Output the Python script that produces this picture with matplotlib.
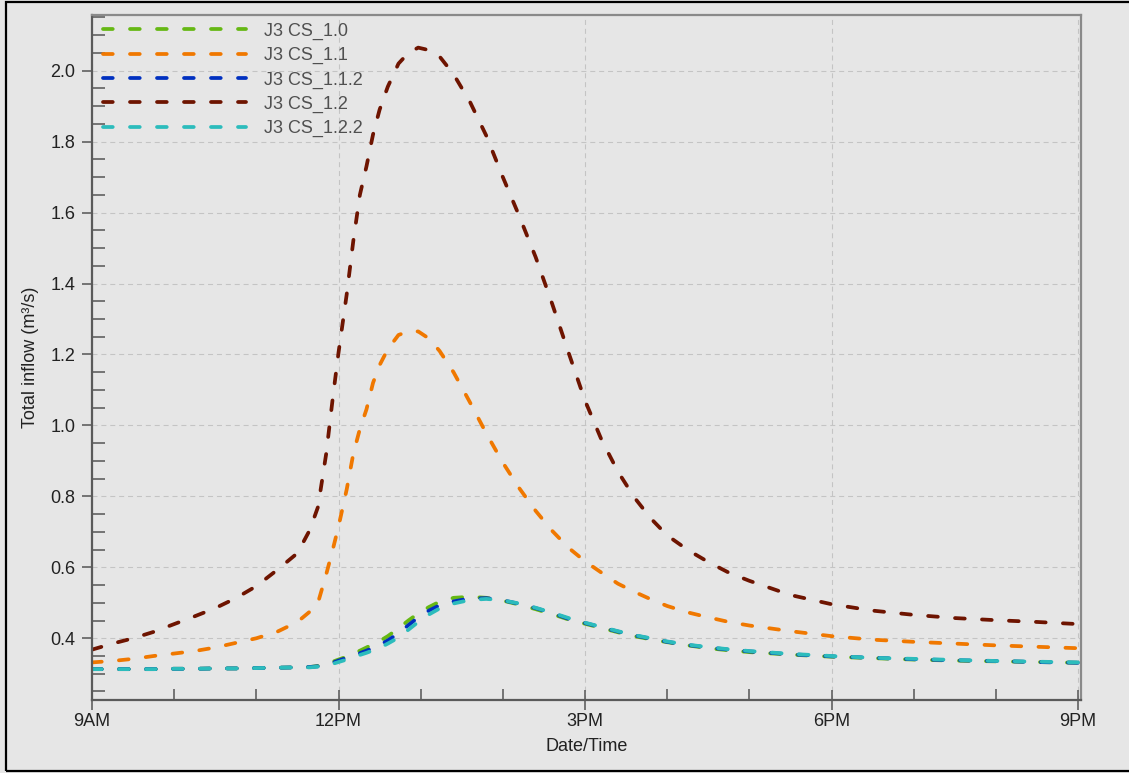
import matplotlib
matplotlib.use("Agg")
import matplotlib.pyplot as plt
from matplotlib.ticker import MultipleLocator, FixedLocator
from matplotlib.patches import Rectangle

plt.rcParams['font.family'] = ['Liberation Sans', 'DejaVu Sans']

# time of day in hours (9 = 9AM, 21 = 9PM)
hours = [9.0, 9.25, 9.5, 9.75, 10.0, 10.25, 10.5, 10.75, 11.0, 11.25, 11.5, 11.65,
         11.75, 11.85, 11.93, 12.0, 12.1, 12.18, 12.26, 12.34, 12.42, 12.5, 12.6,
         12.73, 12.85, 12.97, 13.1, 13.23, 13.4, 13.6, 13.8, 14.0, 14.2, 14.4, 14.6,
         14.8, 15.0, 15.2, 15.4, 15.6, 15.8, 16.0, 16.25, 16.5, 16.75, 17.0, 17.5,
         18.0, 18.5, 19.0, 19.5, 20.0, 20.5, 21.0]

cs_1_0 = [0.313, 0.313, 0.313, 0.313, 0.314, 0.314, 0.315, 0.315, 0.316, 0.317, 0.318, 0.319,
          0.322, 0.328, 0.334, 0.340, 0.348, 0.357, 0.365, 0.374, 0.383, 0.392, 0.406,
          0.428, 0.450, 0.470, 0.488, 0.503, 0.514, 0.517, 0.514, 0.506, 0.495, 0.482, 0.468,
          0.453, 0.441, 0.429, 0.417, 0.406, 0.397, 0.389, 0.380, 0.372, 0.366, 0.361, 0.354,
          0.348, 0.344, 0.340, 0.337, 0.335, 0.333, 0.331]

cs_1_1 = [0.332, 0.336, 0.342, 0.350, 0.357, 0.364, 0.374, 0.387, 0.400, 0.418, 0.446, 0.475,
          0.500, 0.580, 0.650, 0.715, 0.820, 0.920, 0.990, 1.045, 1.120, 1.170, 1.215,
          1.255, 1.265, 1.265, 1.245, 1.210, 1.150, 1.065, 0.977, 0.895, 0.823, 0.759, 0.703,
          0.655, 0.617, 0.585, 0.554, 0.531, 0.510, 0.491, 0.473, 0.459, 0.446, 0.436, 0.420,
          0.406, 0.396, 0.390, 0.385, 0.380, 0.376, 0.372]

cs_1_1_2 = [0.313, 0.313, 0.313, 0.313, 0.314, 0.314, 0.315, 0.315, 0.316, 0.317, 0.318, 0.319,
            0.321, 0.326, 0.331, 0.337, 0.345, 0.352, 0.358, 0.365, 0.373, 0.381, 0.394,
            0.414, 0.437, 0.459, 0.478, 0.493, 0.504, 0.512, 0.513, 0.507, 0.497, 0.485, 0.471,
            0.455, 0.443, 0.431, 0.419, 0.408, 0.399, 0.390, 0.381, 0.374, 0.368, 0.363, 0.355,
            0.349, 0.345, 0.341, 0.338, 0.336, 0.333, 0.331]

cs_1_2 = [0.368, 0.385, 0.400, 0.418, 0.440, 0.462, 0.485, 0.513, 0.547, 0.592, 0.640, 0.705,
          0.770, 0.920, 1.077, 1.205, 1.370, 1.520, 1.650, 1.730, 1.820, 1.890, 1.955,
          2.020, 2.050, 2.065, 2.058, 2.040, 1.990, 1.912, 1.816, 1.700, 1.590, 1.474, 1.343,
          1.205, 1.070, 0.960, 0.870, 0.797, 0.738, 0.690, 0.649, 0.615, 0.585, 0.562, 0.522,
          0.496, 0.478, 0.466, 0.457, 0.451, 0.446, 0.440]

cs_1_2_2 = [0.313, 0.313, 0.313, 0.313, 0.314, 0.314, 0.315, 0.315, 0.316, 0.317, 0.318, 0.318,
            0.320, 0.324, 0.328, 0.333, 0.340, 0.347, 0.353, 0.359, 0.366, 0.373, 0.385,
            0.402, 0.424, 0.446, 0.467, 0.484, 0.498, 0.508, 0.511, 0.507, 0.498, 0.486, 0.472,
            0.457, 0.444, 0.432, 0.420, 0.409, 0.400, 0.391, 0.382, 0.375, 0.369, 0.364, 0.356,
            0.350, 0.345, 0.342, 0.339, 0.336, 0.334, 0.332]

series_names = ['J3 CS_1.0', 'J3 CS_1.1', 'J3 CS_1.1.2', 'J3 CS_1.2', 'J3 CS_1.2.2']
series_colors = ['#66b814', '#f07800', '#0030c0', '#6e1400', '#2cbcbc']

tick_hours = [9, 12, 15, 18, 21]
tick_labels = ['9AM', '12PM', '3PM', '6PM', '9PM']

bg = '#e6e6e6'
fs = 13
fig = plt.figure(figsize=(11.29, 7.73), dpi=100, facecolor=bg)
ax = fig.add_axes([92 / 1129, 73 / 773, 989 / 1129, 685 / 773])
ax.set_facecolor(bg)

# outer frame of the screenshot
fig.patches.append(Rectangle((5.5 / 1129, 2 / 773), 1.2, 769 / 773, transform=fig.transFigure,
                             fill=False, edgecolor='black', linewidth=1.6))

for vals, name, col in zip([cs_1_0, cs_1_1, cs_1_1_2, cs_1_2, cs_1_2_2], series_names, series_colors):
    ax.plot(hours, vals, color=col, linewidth=2.7, linestyle=(0, (2.6, 4.6)),
            dash_capstyle='round', label=name)

ax.set_xlim(9, 21.036)
ax.set_ylim(0.226, 2.157)

ax.xaxis.set_major_locator(FixedLocator(tick_hours))
ax.set_xticklabels(tick_labels)
ax.xaxis.set_minor_locator(MultipleLocator(1))
ax.yaxis.set_major_locator(MultipleLocator(0.2))
ax.yaxis.set_minor_locator(MultipleLocator(0.05))
ax.yaxis.set_major_formatter(matplotlib.ticker.FormatStrFormatter('%.1f'))

ax.grid(True, which='major', color='#c4c4c4', linestyle=(0, (4.5, 3.5)), linewidth=0.8)

ax.tick_params(axis='x', which='major', direction='inout', length=14, width=1.1, color='#555555',
               labelsize=fs, labelcolor='#222222', pad=2)
ax.tick_params(axis='x', which='minor', direction='in', length=8, width=1.1, color='#555555')
ax.tick_params(axis='y', which='major', direction='out', length=7, width=1.1, color='#555555',
               labelsize=fs, labelcolor='#222222', pad=5)
ax.tick_params(axis='y', which='minor', direction='in', length=9, width=1.1, color='#555555')

for side in ['left', 'bottom']:
    ax.spines[side].set_color('#5a5a5a')
    ax.spines[side].set_linewidth(1.6)
for side in ['top', 'right']:
    ax.spines[side].set_color('#8a8a8a')
    ax.spines[side].set_linewidth(1.6)

ax.set_xlabel('Date/Time', fontsize=fs, color='#222222', labelpad=6)
ax.set_ylabel('Total inflow (m³/s)', fontsize=fs, color='#222222', labelpad=8)

leg = ax.legend(loc='upper left', bbox_to_anchor=(0.011, 0.989), frameon=False, fontsize=fs,
                handlelength=7.9, handletextpad=1.0, labelspacing=0.4, borderpad=0,
                borderaxespad=0)
for txt in leg.get_texts():
    txt.set_color('#505050')

fig.savefig('out.png', dpi=100, facecolor=bg)
